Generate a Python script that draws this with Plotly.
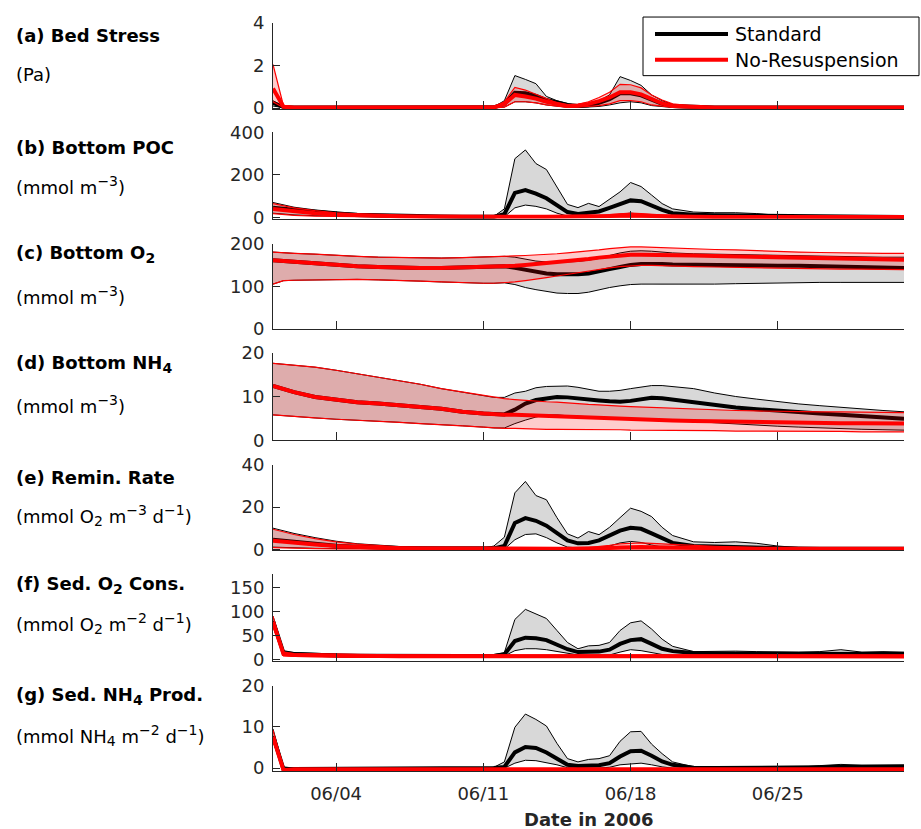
import pandas as pd
import plotly.graph_objects as go

# ---------------- data (day offsets from 2006-06-01) ----------------
T = [0, 0.5, 1, 2, 3, 4, 5, 6, 7, 8, 9, 10, 10.5, 11, 11.5, 12, 12.5, 13, 13.5, 14, 14.5,
     15, 15.5, 16, 16.5, 17, 17.5, 18, 18.5, 19, 20, 21, 22, 23, 24, 25, 26, 27, 28, 29, 30]

# (a) Bed stress (Pa)
a_std_hi = [0.35, 0.08, 0.05, 0.04, 0.04, 0.04, 0.04, 0.04, 0.04, 0.04, 0.04, 0.04, 0.06, 0.35, 1.53, 1.35, 1.15, 0.55, 0.35, 0.22, 0.12,
            0.2, 0.35, 0.62, 1.48, 1.3, 1.07, 0.62, 0.35, 0.18, 0.08, 0.05, 0.05, 0.05, 0.05, 0.05, 0.05, 0.05, 0.05, 0.05, 0.05]
a_std_mean = [0.25, 0.05, 0.03, 0.03, 0.03, 0.03, 0.03, 0.03, 0.03, 0.03, 0.03, 0.03, 0.04, 0.2, 0.72, 0.7, 0.58, 0.38, 0.25, 0.15, 0.1,
              0.14, 0.25, 0.42, 0.7, 0.7, 0.6, 0.38, 0.2, 0.1, 0.05, 0.03, 0.03, 0.03, 0.03, 0.03, 0.03, 0.03, 0.03, 0.03, 0.03]
a_std_lo = [0.1, 0.02, 0.01, 0.01, 0.01, 0.01, 0.01, 0.01, 0.01, 0.01, 0.01, 0.01, 0.01, 0.05, 0.3, 0.3, 0.25, 0.15, 0.08, 0.04, 0.03,
            0.04, 0.08, 0.15, 0.25, 0.3, 0.25, 0.12, 0.06, 0.03, 0.01, 0.01, 0.01, 0.01, 0.01, 0.01, 0.01, 0.01, 0.01, 0.01, 0.01]
a_nr_hi = [2.05, 0.1, 0.05, 0.05, 0.05, 0.05, 0.05, 0.05, 0.05, 0.05, 0.05, 0.05, 0.06, 0.3, 0.97, 0.85, 0.65, 0.42, 0.25, 0.15, 0.18,
           0.3, 0.5, 0.75, 1.12, 1.1, 0.95, 0.62, 0.38, 0.2, 0.1, 0.06, 0.05, 0.05, 0.06, 0.05, 0.05, 0.06, 0.05, 0.05, 0.05]
a_nr_mean = [0.92, 0.06, 0.03, 0.03, 0.03, 0.03, 0.03, 0.03, 0.03, 0.03, 0.03, 0.03, 0.04, 0.2, 0.62, 0.55, 0.45, 0.3, 0.18, 0.1, 0.12,
             0.2, 0.33, 0.5, 0.75, 0.75, 0.65, 0.42, 0.22, 0.1, 0.05, 0.03, 0.03, 0.03, 0.04, 0.03, 0.03, 0.04, 0.03, 0.03, 0.03]
a_nr_lo = [0.3, 0.02, 0.01, 0.01, 0.01, 0.01, 0.01, 0.01, 0.01, 0.01, 0.01, 0.01, 0.01, 0.05, 0.3, 0.3, 0.25, 0.15, 0.08, 0.04, 0.05,
           0.08, 0.12, 0.2, 0.35, 0.35, 0.3, 0.15, 0.08, 0.04, 0.01, 0.01, 0.01, 0.01, 0.01, 0.01, 0.01, 0.01, 0.01, 0.01, 0.01]

# (b) Bottom POC (mmol m-3)
b_std_hi = [70, 58, 48, 35, 25, 18, 13, 10, 8, 6, 5, 4, 5, 40, 276, 317, 253, 225, 145, 61, 46,
            66, 51, 84, 120, 164, 145, 105, 65, 40, 25, 22, 22, 18, 10, 6, 5, 6, 5, 4, 4]
b_std_mean = [45, 40, 33, 24, 17, 12, 9, 7, 5, 4, 3, 3, 3, 15, 115, 128, 112, 90, 55, 25, 16,
              20, 28, 45, 65, 80, 76, 55, 35, 20, 12, 10, 9, 7, 4, 3, 2, 2, 2, 2, 2]
b_std_lo = [20, 16, 12, 8, 5, 3, 2, 1, 1, 1, 1, 1, 1, 3, 45, 58, 52, 40, 20, 6, 3,
            3, 5, 10, 16, 20, 15, 6, 3, 2, 1, 1, 1, 1, 1, 1, 1, 1, 1, 1, 1]
b_nr_hi = [65, 55, 45, 32, 22, 16, 12, 9, 7, 6, 5, 4, 4, 4, 5, 5, 5, 5, 5, 5, 6,
           8, 10, 14, 18, 20, 18, 14, 10, 8, 6, 5, 4, 4, 4, 4, 4, 4, 4, 4, 4]
b_nr_mean = [40, 35, 28, 20, 14, 10, 7, 5, 4, 3, 3, 2, 2, 2, 2, 3, 3, 3, 3, 3, 3,
             4, 5, 7, 9, 10, 9, 7, 5, 4, 3, 2, 2, 2, 2, 2, 2, 2, 2, 2, 2]
b_nr_lo = [18, 14, 10, 6, 4, 2, 1, 1, 1, 1, 1, 1, 1, 1, 1, 1, 1, 1, 1, 1, 1,
           1, 1, 1, 2, 3, 2, 1, 1, 1, 1, 1, 1, 1, 1, 1, 1, 1, 1, 1, 1]

# (c) Bottom O2 (mmol m-3)
c_std_hi = [180, 178, 177, 175, 172, 170, 168, 167, 166, 166, 167, 168, 169, 170, 168, 163, 159, 157, 156, 157, 158,
            161, 165, 172, 178, 182, 183, 182, 180, 178, 176, 175, 174, 173, 172, 171, 170, 169, 168, 168, 168]
c_std_mean = [161, 159, 158, 155, 151, 147, 145, 143, 143, 143, 144, 145, 146, 147, 143, 138, 133, 130, 128, 127, 128,
              130, 134, 140, 145, 150, 152, 153, 152, 151, 150, 150, 149, 149, 148, 148, 147, 146, 145, 144, 143]
c_std_lo = [105, 113, 114, 115, 116, 116, 115, 114, 112, 110, 108, 107, 107, 108, 104, 97, 92, 88, 84, 83, 83,
            86, 92, 97, 101, 104, 105, 105, 104, 104, 104, 105, 106, 107, 108, 109, 109, 109, 109, 109, 109]
c_nr_hi = [180, 178, 177, 175, 172, 170, 168, 167, 166, 166, 167, 168, 169, 170, 171, 172, 173, 174, 176, 178, 180,
           182, 185, 188, 190, 192, 192, 191, 190, 189, 188, 186, 185, 183, 181, 180, 179, 178, 177, 177, 177]
c_nr_mean = [161, 159, 158, 155, 151, 147, 145, 143, 143, 143, 144, 145, 146, 147, 148, 150, 152, 154, 156, 158, 161,
             164, 167, 170, 172, 174, 174, 174, 173, 173, 172, 171, 170, 169, 168, 167, 166, 165, 164, 163, 162]
c_nr_lo = [105, 113, 114, 115, 116, 116, 115, 114, 112, 110, 108, 107, 107, 108, 110, 113, 116, 120, 124, 128, 132,
           136, 140, 143, 146, 148, 149, 149, 148, 147, 146, 145, 144, 143, 142, 142, 141, 140, 140, 139, 139]

# (d) Bottom NH4 (mmol m-3)
d_std_hi = [17.6, 17.4, 17.2, 16.7, 16.0, 15.2, 14.4, 13.5, 12.8, 11.8, 11.0, 10.2, 9.8, 9.8, 10.8, 11.2, 12.0, 12.3, 12.4, 12.4, 12.1,
            11.6, 11.2, 11.2, 11.4, 11.8, 12.2, 12.5, 12.5, 12.3, 11.8, 10.8, 10.0, 9.4, 8.8, 8.3, 7.9, 7.5, 7.1, 6.8, 6.5]
d_std_mean = [12.4, 11.7, 11.0, 9.9, 9.2, 8.7, 8.4, 8.1, 7.6, 7.2, 6.5, 6.1, 5.9, 5.9, 7.0, 8.4, 9.2, 9.6, 9.9, 9.8, 9.5,
              9.2, 9.1, 8.9, 8.8, 9.0, 9.4, 9.7, 9.6, 9.3, 8.6, 7.9, 7.5, 7.1, 6.7, 6.4, 6.1, 5.8, 5.5, 5.2, 4.9]
d_std_lo = [5.8, 5.6, 5.4, 5.1, 4.8, 4.6, 4.3, 4.1, 3.8, 3.6, 3.3, 3.0, 2.8, 2.8, 3.8, 4.6, 5.3, 5.8, 5.8, 5.6, 5.5,
            5.4, 5.3, 5.2, 5.0, 4.9, 4.8, 4.7, 4.6, 4.5, 4.3, 4.0, 3.7, 3.4, 3.2, 3.0, 2.8, 2.6, 2.5, 2.4, 2.3]
d_nr_hi = [17.6, 17.4, 17.2, 16.7, 16.0, 15.2, 14.4, 13.5, 12.8, 11.8, 11.0, 10.2, 9.8, 9.5, 9.3, 9.1, 9.0, 8.8, 8.7, 8.5, 8.4,
           8.2, 8.1, 7.9, 7.8, 7.7, 7.6, 7.5, 7.4, 7.3, 7.1, 7.0, 6.8, 6.7, 6.6, 6.6, 6.5, 6.5, 6.4, 6.4, 6.3]
d_nr_mean = [12.4, 11.7, 11.0, 9.9, 9.2, 8.7, 8.4, 8.1, 7.6, 7.2, 6.5, 6.1, 5.9, 5.8, 5.8, 5.7, 5.6, 5.5, 5.4, 5.3, 5.2,
             5.1, 5.0, 4.9, 4.8, 4.8, 4.7, 4.6, 4.6, 4.5, 4.4, 4.3, 4.2, 4.2, 4.1, 4.0, 4.0, 3.9, 3.9, 3.8, 3.8]
d_nr_lo = [5.8, 5.6, 5.4, 5.1, 4.8, 4.6, 4.3, 4.1, 3.8, 3.6, 3.3, 3.0, 2.8, 2.7, 2.7, 2.6, 2.6, 2.5, 2.5, 2.5, 2.5,
           2.4, 2.4, 2.4, 2.4, 2.3, 2.3, 2.3, 2.3, 2.2, 2.2, 2.2, 2.1, 2.1, 2.0, 2.0, 2.0, 2.0, 1.9, 1.9, 1.9]

# (e) Remineralisation rate (mmol O2 m-3 d-1)
e_std_hi = [10, 8.8, 7.5, 5.5, 3.8, 2.6, 1.8, 1.3, 1.0, 0.8, 0.6, 0.5, 1.5, 5.7, 26.8, 32.2, 25.5, 23.5, 15, 7.3, 5.3,
            8.4, 6.9, 10.4, 15, 19.5, 18, 15.5, 10.4, 6.5, 3.5, 3.2, 3.5, 2.8, 1.5, 0.8, 0.6, 0.6, 0.5, 0.4, 0.3]
e_std_mean = [4.5, 4.0, 3.3, 2.4, 1.7, 1.2, 0.8, 0.6, 0.5, 0.4, 0.3, 0.3, 0.4, 1.5, 12.5, 14.8, 13.5, 11.2, 7.5, 4.2, 2.8,
              3.0, 4.2, 6.5, 8.8, 10.2, 9.7, 7.5, 5.0, 3.0, 1.5, 1.2, 1.1, 0.8, 0.5, 0.3, 0.2, 0.2, 0.2, 0.2, 0.2]
e_std_lo = [1.0, 0.8, 0.6, 0.4, 0.3, 0.2, 0.1, 0.1, 0.1, 0.1, 0.1, 0.1, 0.1, 0.1, 4.5, 7.0, 7.3, 5.5, 3.0, 1.0, 0.6,
            0.5, 0.7, 1.5, 3.0, 3.7, 3.2, 2.0, 1.0, 0.4, 0.1, 0.1, 0.1, 0.1, 0.1, 0.1, 0.1, 0.1, 0.1, 0.1, 0.1]
e_nr_hi = [9.5, 8.2, 7.0, 5.0, 3.5, 2.4, 1.6, 1.1, 0.8, 0.6, 0.5, 0.4, 0.4, 0.4, 0.4, 0.4, 0.4, 0.4, 0.4, 0.4, 0.5,
           0.8, 1.2, 1.8, 2.5, 2.9, 3.0, 2.8, 2.5, 2.2, 1.8, 1.4, 1.0, 0.6, 0.4, 0.3, 0.3, 0.3, 0.3, 0.3, 0.3]
e_nr_mean = [4.0, 3.5, 3.0, 2.2, 1.5, 1.0, 0.7, 0.5, 0.4, 0.3, 0.2, 0.2, 0.2, 0.2, 0.2, 0.2, 0.2, 0.2, 0.2, 0.2, 0.2,
             0.3, 0.4, 0.6, 0.8, 1.0, 1.0, 0.9, 0.8, 0.7, 0.5, 0.4, 0.3, 0.2, 0.2, 0.2, 0.2, 0.2, 0.2, 0.2, 0.2]
e_nr_lo = [0.8, 0.6, 0.5, 0.3, 0.2, 0.1, 0.1, 0.1, 0.1, 0.1, 0.1, 0.1, 0.1, 0.1, 0.1, 0.1, 0.1, 0.1, 0.1, 0.1, 0.1,
           0.1, 0.1, 0.1, 0.2, 0.2, 0.2, 0.2, 0.1, 0.1, 0.1, 0.1, 0.1, 0.1, 0.1, 0.1, 0.1, 0.1, 0.1, 0.1, 0.1]

# (f) Sediment O2 consumption (mmol O2 m-2 d-1)
f_std_hi = [90, 18, 14, 12, 11, 10, 9, 9, 9, 9, 9, 9, 10, 14, 83, 104, 95, 85, 60, 35, 22,
            28, 29, 35, 60, 76, 80, 63, 42, 27, 16, 17, 17, 16, 15, 15, 16, 20, 15, 16, 15]
f_std_mean = [80, 13, 11, 9, 8, 7.5, 7, 7, 7, 7, 7, 7, 7, 10, 38, 45, 44, 40, 30, 21, 15,
              15, 16, 20, 32, 40, 42, 32, 22, 17, 13, 12, 12, 11, 11, 11, 11, 12, 11, 11, 11]
f_std_lo = [70, 9, 7, 6, 5, 5, 5, 5, 5, 5, 5, 5, 5, 7, 18, 22, 22, 20, 16, 12, 9,
            8, 8, 9, 15, 20, 18, 14, 10, 8, 6, 6, 6, 6, 6, 6, 6, 6, 6, 6, 6]
f_nr_hi = [90, 15, 12, 11, 10, 10, 9, 9, 9, 9, 9, 9, 9, 9, 9, 9, 9, 9, 9, 9, 9,
           9, 9, 9, 9, 9, 9, 9, 9, 9, 9, 9, 9, 9, 9, 9, 9, 9, 9, 9, 9]
f_nr_mean = [78, 11, 9, 8, 7.5, 7, 7, 6.5, 6.5, 6, 6, 6, 6, 6, 6, 6, 6, 6, 6, 6, 6,
             6, 6, 6, 6, 6, 6, 6, 6, 6, 6, 6, 6, 6, 6, 6, 6, 6, 6, 6, 6]
f_nr_lo = [68, 7, 6, 5, 4, 4, 4, 4, 4, 4, 4, 4, 4, 4, 4, 4, 4, 4, 4, 4, 4,
           4, 4, 4, 4, 4, 4, 4, 4, 4, 4, 4, 4, 4, 4, 4, 4, 4, 4, 4, 4]

# (g) Sediment NH4 production (mmol NH4 m-2 d-1)
g_std_hi = [9.5, 0.3, 0, 0, 0, 0, 0, 0, 0, 0, 0, 0, 0.2, 1.5, 9.9, 13.1, 11.8, 10.2, 6.0, 2.3, 1.5,
            2.1, 2.3, 3.0, 6.5, 8.8, 8.9, 5.8, 3.5, 1.5, 0.3, 0.3, 0.2, 0.1, 0.1, 0.2, 0.6, 0.9, 0.7, 0.8, 0.8]
g_std_mean = [7.8, -0.3, -0.2, -0.2, -0.2, -0.2, -0.2, -0.2, -0.2, -0.2, -0.2, -0.2, 0, 0.3, 3.8, 5.1, 4.9, 3.8, 2.2, 0.8, 0.5,
              0.6, 0.7, 1.2, 2.8, 4.1, 4.2, 3.0, 1.6, 0.8, 0.1, 0, 0, 0, 0, 0, 0.2, 0.3, 0.3, 0.3, 0.3]
g_std_lo = [6.5, -0.5, -0.4, -0.4, -0.4, -0.4, -0.4, -0.4, -0.4, -0.4, -0.4, -0.4, -0.2, 0, 1.2, 1.9, 1.8, 1.3, 0.8, 0.1, 0,
            0, 0, 0.2, 0.8, 1.0, 1.2, 0.8, 0.3, 0, -0.2, -0.2, -0.2, -0.2, -0.2, -0.2, -0.2, -0.2, -0.2, -0.2, -0.2]
g_nr_hi = [9.2, -0.2, -0.1, -0.1, -0.1, -0.1, -0.1, -0.1, -0.1, -0.1, -0.1, -0.1, -0.1, -0.1, -0.1, -0.1, -0.1, -0.1, -0.1, -0.1, -0.1,
           -0.1, -0.1, -0.1, -0.1, -0.1, -0.1, -0.1, -0.1, -0.1, -0.1, -0.1, -0.1, -0.1, -0.1, -0.1, -0.1, -0.1, -0.1, -0.1, -0.1]
g_nr_mean = [7.6, -0.5, -0.3, -0.3, -0.3, -0.3, -0.3, -0.3, -0.3, -0.3, -0.3, -0.3, -0.3, -0.3, -0.3, -0.3, -0.3, -0.3, -0.3, -0.3, -0.3,
             -0.3, -0.3, -0.3, -0.3, -0.3, -0.3, -0.3, -0.3, -0.3, -0.3, -0.3, -0.3, -0.3, -0.3, -0.3, -0.3, -0.3, -0.3, -0.3, -0.3]
g_nr_lo = [6.5, -0.6, -0.5, -0.5, -0.5, -0.5, -0.5, -0.5, -0.5, -0.5, -0.5, -0.5, -0.5, -0.5, -0.5, -0.5, -0.5, -0.5, -0.5, -0.5, -0.5,
           -0.5, -0.5, -0.5, -0.5, -0.5, -0.5, -0.5, -0.5, -0.5, -0.5, -0.5, -0.5, -0.5, -0.5, -0.5, -0.5, -0.5, -0.5, -0.5, -0.5]


def sup(s):
    return '<sup><span style="font-size:14px">' + s + '</span></sup>'


def sub(s):
    return '<sub><span style="font-size:14px">' + s + '</span></sub>'


panel_titles = ["(a) Bed Stress", "(b) Bottom POC", "(c) Bottom O" + sub("2"), "(d) Bottom NH" + sub("4"),
                "(e) Remin. Rate", "(f) Sed. O" + sub("2") + " Cons.", "(g) Sed. NH" + sub("4") + " Prod."]
panel_units = ["(Pa)",
               "(mmol m" + sup("\u22123") + ")",
               "(mmol m" + sup("\u22123") + ")",
               "(mmol m" + sup("\u22123") + ")",
               "(mmol O" + sub("2") + " m" + sup("\u22123") + " d" + sup("\u22121") + ")",
               "(mmol O" + sub("2") + " m" + sup("\u22122") + " d" + sup("\u22121") + ")",
               "(mmol NH" + sub("4") + " m" + sup("\u22122") + " d" + sup("\u22121") + ")"]
y_ranges = [[-0.06, 4], [-6, 400], [0, 200], [0, 20], [-0.6, 40], [-3, 177], [-0.7, 20]]
y_ticks = [[0, 2, 4], [0, 200, 400], [0, 100, 200], [0, 10, 20], [0, 20, 40], [0, 50, 100, 150], [0, 10, 20]]
x_tick_dates = ["2006-06-04", "2006-06-11", "2006-06-18", "2006-06-25"]
x_tick_text = ["06/04", "06/11", "06/18", "06/25"]
legend_names = ["Standard", "No-Resuspension"]

panels = [
    (a_std_lo, a_std_mean, a_std_hi, a_nr_lo, a_nr_mean, a_nr_hi),
    (b_std_lo, b_std_mean, b_std_hi, b_nr_lo, b_nr_mean, b_nr_hi),
    (c_std_lo, c_std_mean, c_std_hi, c_nr_lo, c_nr_mean, c_nr_hi),
    (d_std_lo, d_std_mean, d_std_hi, d_nr_lo, d_nr_mean, d_nr_hi),
    (e_std_lo, e_std_mean, e_std_hi, e_nr_lo, e_nr_mean, e_nr_hi),
    (f_std_lo, f_std_mean, f_std_hi, f_nr_lo, f_nr_mean, f_nr_hi),
    (g_std_lo, g_std_mean, g_std_hi, g_nr_lo, g_nr_mean, g_nr_hi),
]

# ---------------- layout geometry (pixels) ----------------
W, H = 921, 829
ML, MR, MT, MB = 273, 17, 18, 58
PW, PH = W - ML - MR, H - MT - MB
panel_px = [(18, 105), (128, 215), (240, 326), (350, 438), (463, 549), (573, 660), (685, 771)]
title_py = [31, 143, 251, 361, 476, 584, 695]
unit_py = [70, 182, 292, 402, 514, 623, 735]


def px_x(px):
    return (px - ML) / PW


def px_y(py):
    return (H - MB - py) / PH


X = pd.Timestamp("2006-06-01") + pd.to_timedelta(T, unit="D")
XB = list(X) + list(X[::-1])

AX = "#262626"
FONT = "DejaVu Sans"
GRAY = "rgb(216,216,216)"
PINK = "rgba(250,0,0,0.20)"

fig = go.Figure()
layout = dict(
    width=W, height=H, margin=dict(l=ML, r=MR, t=MT, b=MB),
    paper_bgcolor="white", plot_bgcolor="white", showlegend=False,
    font=dict(family=FONT, size=18, color=AX),
)

for k, (slo, smean, shi, nlo, nmean, nhi) in enumerate(panels):
    n = k + 1
    xa, ya = f"x{n}", f"y{n}"
    common = dict(xaxis=xa, yaxis=ya, hoverinfo="skip", showlegend=False)
    # standard: grey band + edges + thick mean
    fig.add_trace(go.Scatter(x=XB, y=list(shi) + list(slo[::-1]), fill="toself", fillcolor=GRAY,
                             line=dict(width=0), mode="lines", **common))
    fig.add_trace(go.Scatter(x=X, y=shi, mode="lines", line=dict(color="black", width=1), **common))
    fig.add_trace(go.Scatter(x=X, y=slo, mode="lines", line=dict(color="black", width=1), **common))
    fig.add_trace(go.Scatter(x=X, y=smean, mode="lines", line=dict(color="black", width=4), **common))
    # no-resuspension: pink band + edges + thick mean
    fig.add_trace(go.Scatter(x=XB, y=list(nhi) + list(nlo[::-1]), fill="toself", fillcolor=PINK,
                             line=dict(width=0), mode="lines", **common))
    fig.add_trace(go.Scatter(x=X, y=nhi, mode="lines", line=dict(color="red", width=1.2), **common))
    fig.add_trace(go.Scatter(x=X, y=nlo, mode="lines", line=dict(color="red", width=1.2), **common))
    fig.add_trace(go.Scatter(x=X, y=nmean, mode="lines", line=dict(color="red", width=4), **common))

    top, bot = panel_px[k]
    sfx = "" if n == 1 else str(n)
    layout["xaxis" + sfx] = dict(
        domain=[0, 1], anchor=ya, type="date", range=["2006-06-01", "2006-07-01"],
        tickvals=x_tick_dates, ticktext=x_tick_text, showticklabels=(n == 7),
        ticks="inside", ticklen=8, tickwidth=1, tickcolor=AX,
        showline=True, linecolor=AX, linewidth=1, showgrid=False, zeroline=False,
        tickfont=dict(family=FONT, size=18, color=AX), ticklabelstandoff=6,
    )
    layout["yaxis" + sfx] = dict(
        domain=[px_y(bot), px_y(top)], anchor=xa, range=y_ranges[k], tickvals=y_ticks[k],
        ticks="inside", ticklen=7, tickwidth=1, tickcolor=AX,
        showline=True, linecolor=AX, linewidth=1, showgrid=False, zeroline=False,
        tickfont=dict(family=FONT, size=18, color=AX), ticklabelstandoff=4,
    )

annotations = []
for k in range(7):
    annotations.append(dict(xref="paper", yref="paper", x=px_x(14), y=px_y(title_py[k]),
                            xanchor="left", yanchor="middle", showarrow=False,
                            text="<b>" + panel_titles[k] + "</b>",
                            font=dict(family=FONT, size=18, color="black")))
    annotations.append(dict(xref="paper", yref="paper", x=px_x(14), y=px_y(unit_py[k]),
                            xanchor="left", yanchor="middle", showarrow=False,
                            text=panel_units[k],
                            font=dict(family=FONT, size=18, color="black")))
annotations.append(dict(xref="paper", yref="paper", x=px_x(589), y=px_y(820),
                        xanchor="center", yanchor="middle", showarrow=False,
                        text="<b>Date in 2006</b>", font=dict(family=FONT, size=18, color=AX)))

# legend box drawn manually
shapes = [
    dict(type="rect", xref="paper", yref="paper", x0=px_x(643), x1=px_x(919), y0=px_y(71), y1=px_y(12),
         line=dict(color="black", width=1), fillcolor="white", layer="above"),
    dict(type="line", xref="paper", yref="paper", x0=px_x(655), x1=px_x(728), y0=px_y(29), y1=px_y(29),
         line=dict(color="black", width=4), layer="above"),
    dict(type="line", xref="paper", yref="paper", x0=px_x(655), x1=px_x(728), y0=px_y(55), y1=px_y(55),
         line=dict(color="red", width=4), layer="above"),
]
for i, nm in enumerate(legend_names):
    annotations.append(dict(xref="paper", yref="paper", x=px_x(733), y=px_y([29, 55][i]),
                            xanchor="left", yanchor="middle", showarrow=False, text=nm,
                            font=dict(family=FONT, size=19, color="black")))

layout["annotations"] = annotations
layout["shapes"] = shapes
fig.update_layout(**layout)
fig.write_html("out.html", config={"displayModeBar": False},
               post_script="document.body.style.margin='0';document.body.style.overflow='hidden';")
